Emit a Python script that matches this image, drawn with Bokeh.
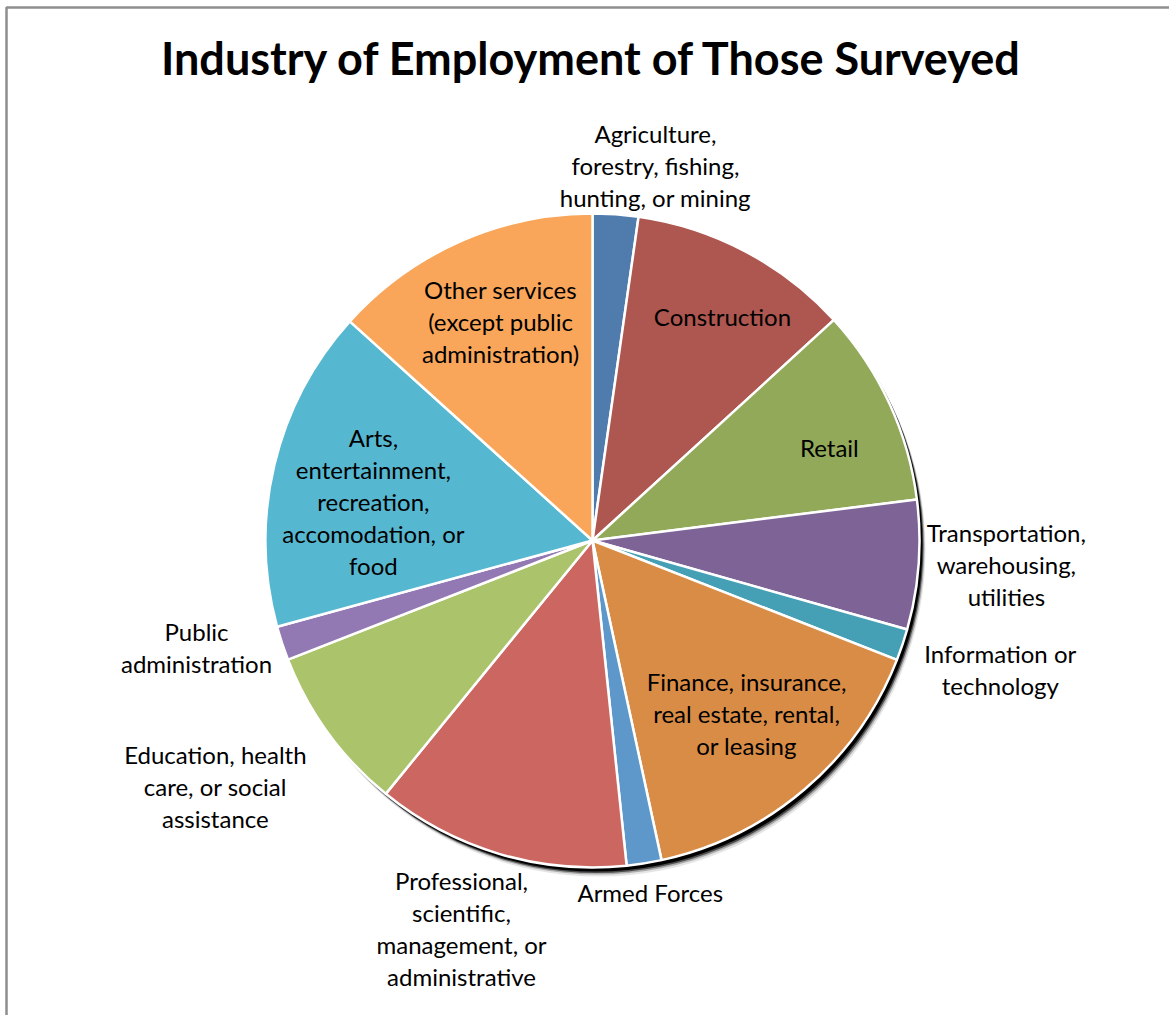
import numpy as np
from bokeh.plotting import figure
from bokeh.models import Range1d, ColumnDataSource
from bokeh.embed import file_html
from bokeh.resources import INLINE
from bokeh.core.properties import value

# ---------------- data ----------------
chart_title = "Industry of Employment of Those Surveyed"
categories = [
    "Agriculture, forestry, fishing, hunting, or mining",
    "Construction",
    "Retail",
    "Transportation, warehousing, utilities",
    "Information or technology",
    "Finance, insurance, real estate, rental, or leasing",
    "Armed Forces",
    "Professional, scientific, management, or administrative",
    "Education, health care, or social assistance",
    "Public administration",
    "Arts, entertainment, recreation, accomodation, or food",
    "Other services (except public administration)",
]
shares = [2.25, 10.97, 9.78, 6.39, 1.56, 15.67, 1.72, 12.56, 8.17, 1.69, 15.94, 13.31]
label_lines = [
    ["Agriculture,", "forestry, fishing,", "hunting, or mining"],
    ["Construction"],
    ["Retail"],
    ["Transportation,", "warehousing,", "utilities"],
    ["Information or", "technology"],
    ["Finance, insurance,", "real estate, rental,", "or leasing"],
    ["Armed Forces"],
    ["Professional,", "scientific,", "management, or", "administrative"],
    ["Education, health", "care, or social", "assistance"],
    ["Public", "administration"],
    ["Arts,", "entertainment,", "recreation,", "accomodation, or", "food"],
    ["Other services", "(except public", "administration)"],
]

# ---------------- styles / layout ----------------
colors = ["#4F7BAD", "#AE5650", "#92A95A", "#7D6396", "#45A0B5", "#D98C46",
          "#5E97C9", "#CC6661", "#ABC46B", "#9379B3", "#56B8D0", "#F9A65A"]
label_r = [1.160, 0.789, 0.777, 1.268, 1.309, 0.711, 1.094, 1.255, 1.378, 1.255, 0.680, 0.724]
label_nudge = [5.5, 2.4, 3.6, -0.8, -0.9, -1.1, -0.2, 2.0, 2.9, 3.1, -3.6, 1.1]

W, H = 1169, 1015
CX, CY_SCREEN = 592, 540
CY = H - CY_SCREEN
R = 327
LINE_H = 32
FONT = "Lato"

vals = np.array(shares, dtype=float)
frac = vals / vals.sum()
a1 = np.cumsum(frac) * 2 * np.pi          # clockwise from 12 o'clock
a0 = a1 - frac * 2 * np.pi
start = np.pi / 2 - a1
end = np.pi / 2 - a0

p = figure(width=W, height=H, x_range=Range1d(0, W), y_range=Range1d(0, H),
           output_backend="svg", toolbar_location=None, min_border=0)
p.axis.visible = False
p.grid.visible = False
p.outline_line_color = None
p.background_fill_color = "white"
p.border_fill_color = "white"

# chart frame
p.line(x=[6, 6, W + 5], y=[-5, H - 7, H - 7], line_color="#8E8E8E", line_width=2.5)

# shadow
for dx, dy, al in [(6, 9, 0.10), (5, 7, 0.25), (4, 5.5, 0.55), (3, 4, 1.0)]:
    p.circle(x=[CX + dx], y=[CY - dy], radius=R, fill_color="black",
             fill_alpha=al, line_color=None)

src = ColumnDataSource(dict(start=start, end=end, color=colors, cat=categories, val=vals))
p.wedge(x=CX, y=CY, radius=R, start_angle="start", end_angle="end",
        fill_color="color", line_color="white", line_width=2.5, source=src)

# labels
tx, ty, tt = [], [], []
mid = (a0 + a1) / 2
for i, lines in enumerate(label_lines):
    ang = mid[i] + np.deg2rad(label_nudge[i])
    d = label_r[i] * R
    lx = CX + d * np.sin(ang)
    ly = CY + d * np.cos(ang)
    n = len(lines)
    for j, s in enumerate(lines):
        tx.append(lx)
        ty.append(ly + ((n - 1) / 2 - j) * LINE_H + 1)
        tt.append(s)
p.text(x=tx, y=ty, text=tt, text_font=value(FONT), text_font_size="24px",
       text_align="center", text_baseline="alphabetic", text_color="black")

p.text(x=[592], y=[H - 57], text=[chart_title], text_font=value(FONT),
       text_font_size="45px", text_font_style="bold", text_align="center",
       text_baseline="alphabetic", text_color="black")

open("out.html", "w").write(file_html(p, INLINE))
